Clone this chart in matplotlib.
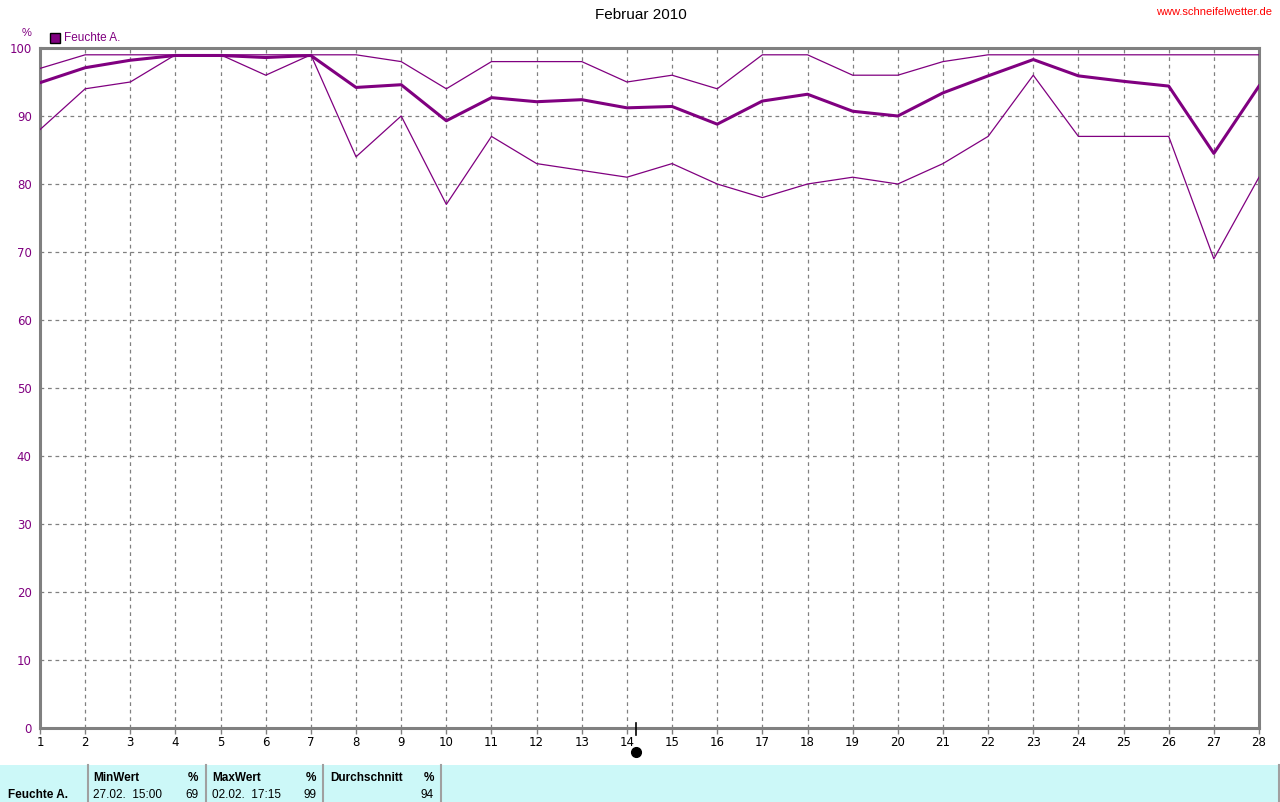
import numpy as np
import matplotlib
matplotlib.use('Agg')
import matplotlib.pyplot as plt
import matplotlib.patches as mpatches

plt.rcParams['font.family'] = ['Liberation Sans', 'DejaVu Sans']

# Daily relative humidity, February 2010
days = list(range(1, 29))
hum_max = [97, 99, 99, 99, 99, 99, 99, 99, 98, 94, 98, 98, 98, 95,
           96, 94, 99, 99, 96, 96, 98, 99, 99, 99, 99, 99, 99, 99]
hum_mean = [94.9, 97.1, 98.2, 98.9, 98.9, 98.6, 98.9, 94.2, 94.6, 89.3, 92.7, 92.1, 92.4, 91.2,
            91.4, 88.8, 92.2, 93.2, 90.7, 90.0, 93.4, 95.9, 98.3, 95.9, 95.1, 94.4, 84.5, 94.4]
hum_min = [88, 94, 95, 99, 99, 96, 99, 84, 90, 77, 87, 83, 82, 81,
           83, 80, 78, 80, 81, 80, 83, 87, 96, 87, 87, 87, 69, 81]
y_ticks = list(range(0, 101, 10))
marker_day = 14.2

# Summary table
tbl_name = 'Feuchte A.'
tbl_heads = ['MinWert', 'MaxWert', 'Durchschnitt']
tbl_times = ['27.02.  15:00', '02.02.  17:15', '']
tbl_vals = ['69', '99', '94']

purple = '#800080'
grid_gray = '#808080'
W, H = 1280, 802

fig = plt.figure(figsize=(W / 100, H / 100), dpi=100)
fig.patch.set_facecolor('white')

def fx(px):
    return px / W

def fy(py):
    return 1 - py / H

ax = fig.add_axes([fx(40), fy(728), fx(1259) - fx(40), fy(48) - fy(728)])
ax.plot(days, hum_max, color=purple, lw=0.9, zorder=3)
ax.plot(days, hum_min, color=purple, lw=0.9, zorder=3)
ax.plot(days, hum_mean, color=purple, lw=2.2, zorder=4)

ax.set_xlim(1, 28)
ax.set_ylim(0, 100)
ax.set_xticks(days)
ax.set_yticks(y_ticks)
ax.grid(True, color=grid_gray, ls=(0, (3, 3)), lw=0.9)
for s in ax.spines.values():
    s.set_color(grid_gray)
    s.set_linewidth(2.2)
ax.tick_params(axis='x', colors=grid_gray, length=4, width=1, labelcolor='black',
               labelsize=8.5, pad=2)
ax.tick_params(axis='y', length=0, labelcolor=purple, labelsize=8.5, pad=6)
for lab in ax.get_xticklabels() + ax.get_yticklabels():
    lab.set_family('DejaVu Sans')

# Marker for current position
ax.plot([marker_day, marker_day], [0.7, -1.0], color='black', lw=1.2, clip_on=False, zorder=6)
ax.plot([marker_day], [-3.6], 'o', color='black', ms=7, clip_on=False, zorder=6)

# Title, unit, legend, url
fig.text(fx(641), fy(15), 'Februar 2010', ha='center', va='center', fontsize=11)
fig.text(fx(1272), fy(12), 'www.schneifelwetter.de', ha='right', va='center',
         fontsize=8, color='red')
fig.text(fx(27), fy(33), '%', ha='center', va='center', fontsize=8, color=purple)
fig.patches.append(mpatches.Rectangle((fx(50), fy(43)), fx(10), fy(33) - fy(43),
                                      transform=fig.transFigure, facecolor=purple,
                                      edgecolor='black', lw=1))
fig.text(fx(64), fy(38), 'Feuchte A.', ha='left', va='center', fontsize=8.5, color=purple)

# Summary table at the bottom
fig.patches.append(mpatches.Rectangle((0, 0), 1, fy(765), transform=fig.transFigure,
                                      facecolor='#ccf8f8', edgecolor='none'))
for xl in [88, 206, 323, 441]:
    fig.add_artist(plt.Line2D([fx(xl), fx(xl)], [0, fy(765)], color='#a0a0a0', lw=1.5))
fig.add_artist(plt.Line2D([fx(1279), fx(1279)], [0, fy(765)], color='#a0a0a0', lw=1.5))
fig.text(fx(8), fy(795), tbl_name, ha='left', va='center', fontsize=8.5,
         fontweight='bold')
col_x = [93, 212, 330]
col_r = [198, 316, 434]
for head, tm, val, x0, xr in zip(tbl_heads, tbl_times, tbl_vals, col_x, col_r):
    fig.text(fx(x0), fy(778), head, ha='left', va='center', fontsize=8.5,
             fontweight='bold')
    fig.text(fx(xr), fy(778), '%', ha='right', va='center', fontsize=8.5,
             fontweight='bold')
    fig.text(fx(x0), fy(795), tm, ha='left', va='center', fontsize=8.5)
    fig.text(fx(xr), fy(795), val, ha='right', va='center', fontsize=8.5)

plt.savefig('out.png', dpi=100)
